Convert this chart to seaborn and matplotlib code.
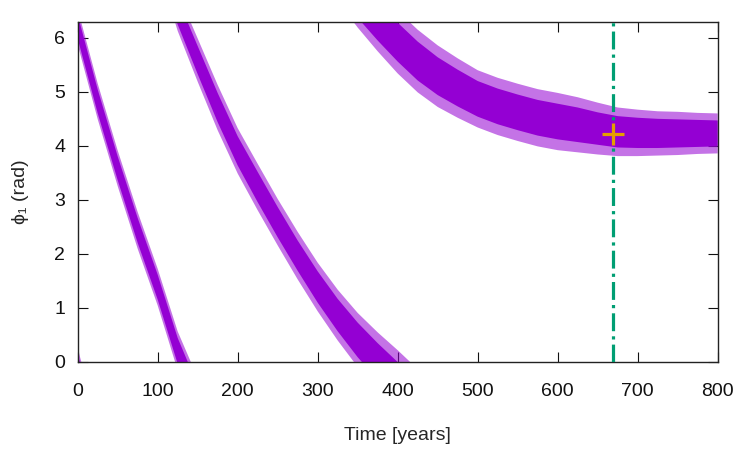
import numpy as np
import matplotlib
matplotlib.use("Agg")
import matplotlib.pyplot as plt
import seaborn as sns

sns.set_style("ticks")
plt.rcParams['font.family'] = ['Liberation Sans', 'DejaVu Sans']

# ============================================================
# Data (phase unwrapped, wraps every 2*pi)
# ============================================================
time_yr = [0, 25, 50, 75, 100, 125, 150, 175, 200, 225, 250, 275, 300,
           325, 350, 375, 400, 425, 450, 475, 500, 525, 550, 575, 600,
           625, 650, 675, 700, 725, 750, 775, 800]
phase_mid = [6.20, 4.82, 3.58, 2.43, 1.38, 0.20, -0.70, -1.58, -2.38,
             -3.05, -3.70, -4.32, -4.90, -5.42, -5.88, -6.28, -6.65,
             -7.00, -7.28, -7.50, -7.70, -7.84, -7.95, -8.05, -8.12,
             -8.18, -8.25, -8.31, -8.33, -8.34, -8.34, -8.34, -8.34]
# half spread of the scatter cloud: spike tips / dense core
spread_outer = [0.33, 0.33, 0.33, 0.34, 0.34, 0.36, 0.40, 0.42, 0.42,
                0.43, 0.43, 0.44, 0.45, 0.47, 0.50, 0.54, 0.58, 0.58,
                0.57, 0.55, 0.53, 0.53, 0.53, 0.53, 0.53, 0.51, 0.48,
                0.45, 0.43, 0.41, 0.40, 0.38, 0.37]
spread_core = [0.22, 0.22, 0.22, 0.23, 0.23, 0.24, 0.26, 0.27, 0.27,
               0.28, 0.28, 0.28, 0.29, 0.30, 0.32, 0.34, 0.36, 0.36,
               0.35, 0.34, 0.33, 0.33, 0.33, 0.33, 0.33, 0.32, 0.30,
               0.29, 0.28, 0.27, 0.26, 0.25, 0.24]

t_mark = 669
phi_mark = 4.21

xticks = [0, 100, 200, 300, 400, 500, 600, 700, 800]
yticks = [0, 1, 2, 3, 4, 5, 6]

purple = "#9400D3"
green = "#009E73"
orange = "#E69F00"

# ============================================================
# Plot
# ============================================================
t = np.array(time_yr)
mid = np.array(phase_mid)
outer = np.array(spread_outer)
core = np.array(spread_core)

fig = plt.figure(figsize=(7.5, 4.5), dpi=100)
ax = fig.add_axes([0.1036, 0.1962, 0.8533, 0.7542])

for k in range(-1, 3):
    off = 2 * np.pi * k
    ax.fill_between(t, mid - outer + off, mid + outer + off,
                    color=purple, alpha=0.55, lw=0)
    ax.fill_between(t, mid - core + off, mid + core + off,
                    color=purple, alpha=1.0, lw=0)

ax.axvline(t_mark, color=green, lw=2.3, dashes=(5.6, 1.6, 1.0, 1.6), zorder=5)
ax.plot([t_mark], [phi_mark], marker="+", ms=16, mew=2.3, color=orange,
        zorder=6, ls="none")

ax.set_xlim(0, 800)
ax.set_ylim(0, 2 * np.pi)
ax.set_xticks(xticks)
ax.set_yticks(yticks)
ax.tick_params(direction="in", length=7.5, width=0.8, top=True, right=True,
               labelsize=14, colors="#111111")
ax.tick_params(axis="x", pad=15)
ax.tick_params(axis="y", pad=9)
for s in ax.spines.values():
    s.set_linewidth(1.0)
    s.set_color("#222222")

ax.set_xlabel("Time [years]", fontsize=14, labelpad=20)
ax.set_ylabel("ϕ₁ (rad)", fontsize=14, labelpad=18)

fig.savefig("out.png", dpi=100)
